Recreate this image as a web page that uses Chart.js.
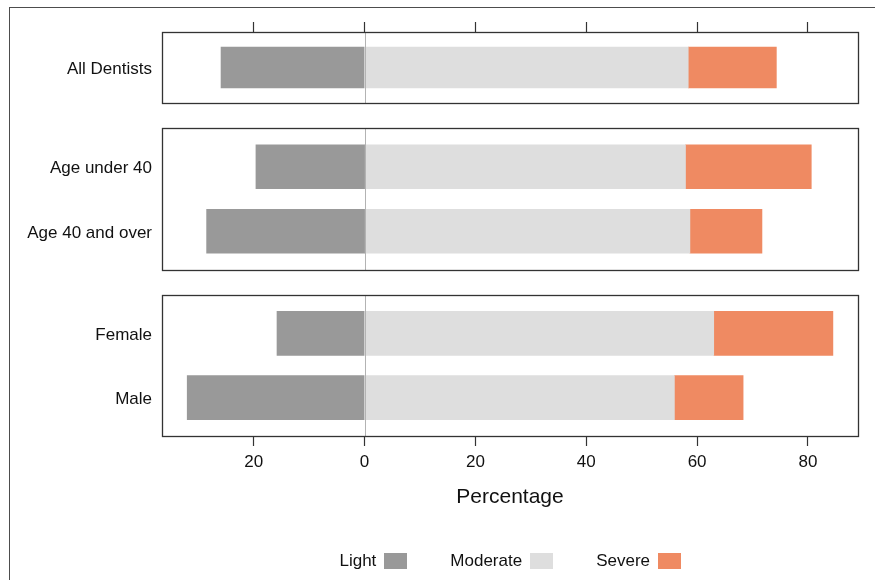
<!DOCTYPE html>
<html>
<head>
<meta charset="utf-8">
<title>Dentists – severity by group</title>
<script src="https://cdn.jsdelivr.net/npm/chart.js@4.4.1/dist/chart.umd.min.js"></script>
<style>
  html, body { margin: 0; padding: 0; width: 875px; height: 580px; overflow: hidden; background: #fff; }
  #frame { position: absolute; left: 9px; top: 7px; width: 900px; height: 600px; border: 1px solid #4d4d4d; box-sizing: border-box; }
  canvas { position: absolute; left: 0; display: block; }
</style>
</head>
<body>
<div id="frame"></div>
<canvas id="panelAll" width="875" height="110" style="top:0px"></canvas>
<canvas id="panelAge" width="875" height="160" style="top:120px"></canvas>
<canvas id="panelSex" width="875" height="295" style="top:285px"></canvas>
<script>
// Response categories and their fills
const seriesNames = ['Light', 'Moderate', 'Severe'];
const seriesColors = ['#999999', '#DEDEDE', '#EF8A62'];

// Panel 1: all respondents (percent)
const allGroups = ['All Dentists'];
const allLight = [25.9];
const allModerate = [58.4];
const allSevere = [15.9];

// Panel 2: by age
const ageGroups = ['Age under 40', 'Age 40 and over'];
const ageLight = [19.6, 28.5];
const ageModerate = [57.9, 58.7];
const ageSevere = [22.7, 13.0];

// Panel 3: by sex
const sexGroups = ['Female', 'Male'];
const sexLight = [15.8, 32.0];
const sexModerate = [63.0, 55.9];
const sexSevere = [21.5, 12.4];

// Shared percentage axis (Light is drawn to the left of zero)
const xTickValues = [-20, 0, 20, 40, 60, 80];
const xMin = -36.55;
const xMax = 89.03;
const xTitle = 'Percentage';

const FONT = '"Liberation Sans", Arial, Helvetica, sans-serif';
Chart.defaults.font.family = FONT;
Chart.defaults.color = '#111';

// Width reserved on the left for the group names
const LABEL_COL = 162;

// Box around each panel plus the zero reference line
const panelFrame = {
  id: 'panelFrame',
  afterDatasetsDraw(chart) {
    const { ctx, chartArea: a, scales: { x } } = chart;
    const zx = Math.round(x.getPixelForValue(0)) + 0.5;
    ctx.save();
    ctx.strokeStyle = '#b3b3b3';
    ctx.lineWidth = 1;
    ctx.beginPath();
    ctx.moveTo(zx, a.top);
    ctx.lineTo(zx, a.bottom);
    ctx.stroke();
    ctx.strokeStyle = '#333';
    ctx.lineWidth = 1.3;
    ctx.strokeRect(Math.round(a.left) + 0.5, Math.round(a.top) + 0.5,
                   Math.round(a.right - a.left), Math.round(a.bottom - a.top));
    ctx.restore();
  }
};

// Legend with the label text placed before its swatch
const swatchLegend = {
  id: 'swatchLegend',
  afterDraw(chart, args, opts) {
    if (!opts || !opts.display) return;
    const { ctx, chartArea: a } = chart;
    ctx.save();
    ctx.font = `${opts.fontSize}px ${FONT}`;
    ctx.textBaseline = 'middle';
    ctx.textAlign = 'left';
    const items = chart.data.datasets.map(d => ({
      text: d.label, color: d.backgroundColor, w: ctx.measureText(d.label).width
    }));
    const total = items.reduce((s, it) => s + it.w + opts.textGap + opts.boxWidth, 0)
                + opts.itemGap * (items.length - 1);
    let cx = (a.left + a.right) / 2 - total / 2;
    const cy = chart.height - opts.fromBottom;
    items.forEach(it => {
      ctx.fillStyle = '#111';
      ctx.fillText(it.text, cx, cy);
      cx += it.w + opts.textGap;
      ctx.fillStyle = it.color;
      ctx.fillRect(Math.round(cx), Math.round(cy - opts.boxHeight / 2), opts.boxWidth, opts.boxHeight);
      cx += opts.boxWidth + opts.itemGap;
    });
    ctx.restore();
  }
};

function xScale(mode) {
  const base = {
    type: 'linear',
    min: xMin,
    max: xMax,
    stacked: true,
    afterBuildTicks: s => { s.ticks = xTickValues.map(v => ({ value: v })); },
    border: { display: false }
  };
  if (mode === 'none') return Object.assign(base, { display: false });
  const grid = { display: true, drawOnChartArea: false, drawTicks: true, tickLength: 10, tickColor: '#333', tickWidth: 1.2 };
  if (mode === 'top') {
    return Object.assign(base, { position: 'top', grid, ticks: { display: false } });
  }
  return Object.assign(base, {
    position: 'bottom',
    grid,
    ticks: {
      display: true, autoSkip: false, maxRotation: 0, padding: 6,
      font: { size: 17 }, color: '#111',
      callback: v => String(Math.abs(v))
    },
    title: { display: true, text: xTitle, font: { size: 21 }, color: '#111', padding: { top: 6, bottom: 4 } }
  });
}

function makePanel(canvasId, groups, light, moderate, severe, opts) {
  const values = [light.map(v => -v), moderate, severe];
  const datasets = seriesNames.map((name, k) => ({
    label: name,
    backgroundColor: seriesColors[k],
    borderWidth: 0,
    barThickness: opts.barThickness,
    data: values[k].map((v, i) => ({ x: v, y: i + 1 }))
  }));
  return new Chart(document.getElementById(canvasId), {
    type: 'bar',
    data: { datasets },
    options: {
      indexAxis: 'y',
      responsive: false,
      animation: false,
      layout: { padding: opts.padding },
      scales: {
        x: xScale(opts.axis),
        y: {
          type: 'linear',
          reverse: true,
          stacked: true,
          offset: false,
          min: 0.4,
          max: groups.length + 0.6,
          afterBuildTicks: s => { s.ticks = groups.map((g, i) => ({ value: i + 1 })); },
          afterFit: s => { s.width = LABEL_COL; s.paddingTop = 0; s.paddingBottom = 0; },
          grid: { display: false, drawTicks: false, offset: false },
          border: { display: false },
          ticks: {
            autoSkip: false, padding: 10, labelOffset: 2,
            font: { size: 17 }, color: '#111',
            callback: (v, i) => groups[i]
          }
        }
      },
      plugins: {
        legend: { display: false },
        tooltip: { enabled: false },
        swatchLegend: opts.legend || { display: false }
      }
    },
    plugins: [panelFrame, swatchLegend]
  });
}

makePanel('panelAll', allGroups, allLight, allModerate, allSevere, {
  axis: 'top', barThickness: 41,
  padding: { left: 0, right: 17, top: 22, bottom: 7 }
});

makePanel('panelAge', ageGroups, ageLight, ageModerate, ageSevere, {
  axis: 'none', barThickness: 44,
  padding: { left: 0, right: 17, top: 8, bottom: 10 }
});

makePanel('panelSex', sexGroups, sexLight, sexModerate, sexSevere, {
  axis: 'bottom', barThickness: 44,
  padding: { left: 0, right: 17, top: 10, bottom: 66.4 },
  legend: { display: true, fontSize: 17, boxWidth: 23, boxHeight: 16, textGap: 7.5, itemGap: 43.5, fromBottom: 19 }
});
</script>
</body>
</html>
